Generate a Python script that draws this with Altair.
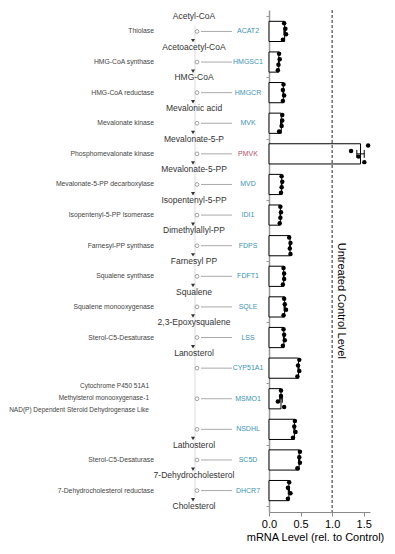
import altair as alt
import pandas as pd

# ---------------- data ----------------
genes = ["ACAT2", "HMGSC1", "HMGCR", "MVK", "PMVK", "MVD", "IDI1", "FDPS",
         "FDFT1", "SQLE", "LSS", "CYP51A1", "MSMO1", "NSDHL", "SC5D", "DHCR7"]

rep1 = [0.24, 0.16, 0.23, 0.21, 1.57, 0.20, 0.18, 0.32, 0.23, 0.24, 0.23, 0.48, 0.19, 0.41, 0.49, 0.32]
rep2 = [0.26, 0.17, 0.22, 0.21, 1.30, 0.21, 0.19, 0.34, 0.24, 0.25, 0.24, 0.46, 0.19, 0.40, 0.48, 0.30]
rep3 = [0.27, 0.15, 0.24, 0.20, 1.42, 0.20, 0.18, 0.33, 0.24, 0.27, 0.25, 0.48, 0.14, 0.42, 0.49, 0.34]
rep4 = [0.22, 0.14, 0.22, 0.16, 1.51, 0.19, 0.17, 0.34, 0.22, 0.23, 0.22, 0.45, 0.24, 0.38, 0.45, 0.30]

enzymes = ["Thiolase", "HMG-CoA synthase", "HMG-CoA reductase", "Mevalonate kinase",
           "Phosphomevalonate kinase", "Mevalonate-5-PP decarboxylase",
           "Isopentenyl-5-PP isomerase", "Farnesyl-PP synthase", "Squalene synthase",
           "Squalene monooxygenase", "Sterol-C5-Desaturase", "",
           "Cytochrome P450 51A1\nMethylsterol monooxygenase-1\nNAD(P) Dependent Steroid Dehydrogenase Like",
           "", "Sterol-C5-Desaturase", "7-Dehydrocholesterol reductase"]

metabolites = ["Acetyl-CoA", "Acetoacetyl-CoA", "HMG-CoA", "Mevalonic acid", "Mevalonate-5-P",
               "Mevalonate-5-PP", "Isopentenyl-5-PP", "Dimethylallyl-PP", "Farnesyl PP",
               "Squalene", "2,3-Epoxysqualene", "Lanosterol", "Lathosterol",
               "7-Dehydrocholesterol", "Cholesterol"]
# metabolite sits just before the gene step with this number
metabolite_step = [0, 1, 2, 3, 4, 5, 6, 7, 8, 9, 10, 11, 14, 15, 16]

control_level = 1.0
control_label = "Untreated Control Level"

# ---------------- tables ----------------
reps = pd.DataFrame(
    [{"gene": g, "step": i, "rep": r, "value": v}
     for i, g in enumerate(genes)
     for r, v in enumerate([rep1[i], rep2[i], rep3[i], rep4[i]])]
)
means = reps.groupby("step")["value"].mean()
gene_df = pd.DataFrame({
    "gene": genes,
    "step": range(len(genes)),
    "status": ["up" if means[i] > control_level else "down" for i in range(len(genes))],
})
enz_df = pd.DataFrame({"enzyme": enzymes, "step": range(len(genes))})
enz_df = enz_df[enz_df["enzyme"] != ""]
enz_single = enz_df[~enz_df["enzyme"].str.contains("\n")]
enz_multi = enz_df[enz_df["enzyme"].str.contains("\n")]
met_df = pd.DataFrame({"metabolite": metabolites, "slot": metabolite_step})
met_df["pos"] = met_df["slot"] - 0.5
arrow_df = gene_df[gene_df["step"].isin([s - 1 for s in metabolite_step])][["gene", "step"]]
ctrl_df = pd.DataFrame({"level": [control_level], "label": [control_label]})

FONT = "Liberation Sans"
H = 502
W = 101

yscale = alt.Scale(domain=[-0.7, 15.7], reverse=True, nice=False, zero=False)
xscale = alt.Scale(domain=[0, 1.6], nice=False)

XAX = alt.Axis(values=[0, 0.5, 1, 1.5], format=".1f", title="mRNA Level (rel. to Control)",
               grid=False, labelFontSize=11, titleFontSize=11, titleFontWeight="normal",
               labelFont=FONT, titleFont=FONT, labelColor="black", titleColor="black",
               domainColor="#888888", tickColor="#888888", tickSize=4, titlePadding=2,
               labelPadding=2, labelFlush=False, labelOverlap=False, titleX=46)
YAX = alt.Axis(values=[i - 0.5 for i in range(len(genes) + 1)], labels=False, title=None,
               grid=False, tickSize=3, domainColor="#999999", tickColor="#999999", domainWidth=1.5)

X = lambda f: alt.X(f, scale=xscale, axis=XAX)
Y = lambda f: alt.Y(f, scale=yscale, axis=YAX)

# pathway-diagram columns, in pixels relative to the bar panel's left edge
ENZ_X, PATH_X, META_X, CIRC_X, ARROW_X, LINK_X1, LINK_X2, GENE_X = -115, -74, -75, -72, -76, -68, -37, -21

# ---------------- pathway diagram ----------------
path_line = alt.Chart(met_df).transform_aggregate(
    lo="min(pos)", hi="max(pos)"
).transform_calculate(
    lo="datum.lo + 0.3", hi="datum.hi - 0.3"
).mark_rule(color="#dddddd", strokeWidth=1).encode(
    x=alt.value(PATH_X), y=Y("lo:Q"), y2="hi:Q"
)

links = alt.Chart(gene_df).mark_rule(color="#aaaaaa", strokeWidth=1).encode(
    x=alt.value(LINK_X1), x2=alt.value(LINK_X2), y=Y("step:Q"),
)

circles = alt.Chart(gene_df).mark_point(
    shape="circle", size=14, filled=True, fill="white", stroke="#888888", strokeWidth=0.8, opacity=1
).encode(x=alt.value(CIRC_X), y=Y("step:Q"))

arrows = alt.Chart(arrow_df).transform_calculate(
    apos="datum.step + 0.3"
).mark_point(shape="triangle-down", filled=True, size=16, color="#333333", opacity=1).encode(
    x=alt.value(ARROW_X), y=Y("apos:Q")
)

met_text = alt.Chart(met_df).mark_text(
    font=FONT, fontSize=8.5, fontWeight="normal", color="#333333", align="center", baseline="middle"
).encode(x=alt.value(META_X), y=Y("pos:Q"), text="metabolite:N")

enz_text = alt.Chart(enz_single).mark_text(
    font=FONT, fontSize=6.8, color="#444444", align="right", baseline="middle"
).encode(x=alt.value(ENZ_X), y=Y("step:Q"), text="enzyme:N")

enz_text_multi = alt.Chart(enz_multi).mark_text(
    font=FONT, fontSize=6.5, color="#444444", align="right", baseline="middle",
    lineBreak="\n", lineHeight=12, dy=-13
).encode(x=alt.value(ENZ_X - 5), y=Y("step:Q"), text="enzyme:N")

gene_text = alt.Chart(gene_df).mark_text(
    font=FONT, fontSize=7, align="center", baseline="middle"
).encode(
    x=alt.value(GENE_X), y=Y("step:Q"), text="gene:N",
    color=alt.Color("status:N", scale=alt.Scale(domain=["down", "up"], range=["#3d93b3", "#b5506a"]), legend=None),
)

# ---------------- bars + dots ----------------
base = alt.Chart(reps)

bars = base.transform_aggregate(
    mean="mean(value)", groupby=["step", "gene"]
).transform_calculate(
    y0="datum.step - 0.33", y1="datum.step + 0.33", zero="0"
).mark_rect(fill="white", stroke="black", strokeWidth=1).encode(
    x=X("mean:Q"), x2="zero:Q", y=Y("y0:Q"), y2="y1:Q",
)

err = base.transform_aggregate(
    m="mean(value)", sd="stdev(value)", n="count()", groupby=["step"]
).transform_calculate(
    lo="datum.m - datum.sd / sqrt(datum.n)", hi="datum.m + datum.sd / sqrt(datum.n)",
    c0="datum.step - 0.13", c1="datum.step + 0.13"
)
err_line = err.mark_rule(color="black", strokeWidth=1).encode(x=X("lo:Q"), x2="hi:Q", y=Y("step:Q"))
err_cap_lo = err.mark_rule(color="black", strokeWidth=1).encode(x=X("lo:Q"), y=Y("c0:Q"), y2="c1:Q")
err_cap_hi = err.mark_rule(color="black", strokeWidth=1).encode(x=X("hi:Q"), y=Y("c0:Q"), y2="c1:Q")

dots = base.transform_calculate(
    ypos="datum.step + (datum.rep - 1.5) * 0.18"
).mark_circle(size=20, color="black", opacity=1).encode(x=X("value:Q"), y=Y("ypos:Q"))

ctrl_rule = alt.Chart(ctrl_df).mark_rule(color="#222222", strokeDash=[3, 2], strokeWidth=1).encode(
    x=X("level:Q")
)
ctrl_text = alt.Chart(ctrl_df).mark_text(
    font=FONT, fontSize=11, angle=90, align="center", baseline="middle", dy=-9, color="black"
).encode(x=X("level:Q"), y=alt.datum(8.8), text="label:N")

chart = alt.layer(
    path_line, links, circles, arrows, met_text, enz_text, enz_text_multi, gene_text,
    bars, err_line, err_cap_lo, err_cap_hi, dots, ctrl_rule, ctrl_text
).properties(
    width=W, height=H,
    autosize=alt.AutoSizeParams(type="none"),
    padding={"left": 261, "top": 2, "right": 17, "bottom": 33},
).configure(font=FONT, background="white").configure_view(strokeWidth=0, stroke=None)

chart.save("out.html", embed_options={"renderer": "svg", "actions": False})
